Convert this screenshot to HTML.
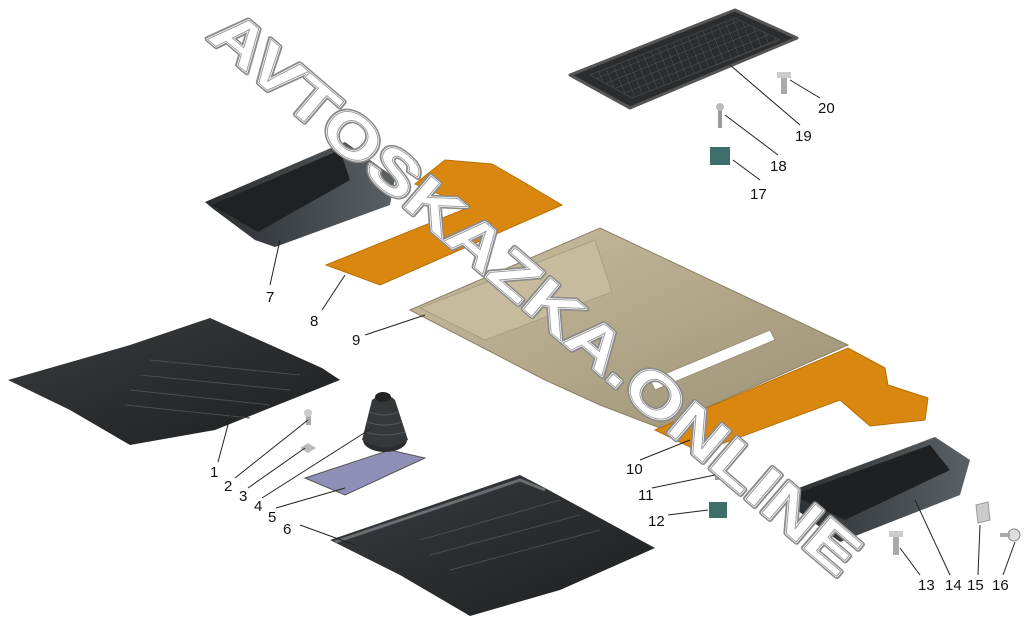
<!DOCTYPE html>
<html><head><meta charset="utf-8"><style>
html,body{margin:0;padding:0;background:#fff;width:1029px;height:625px;overflow:hidden}
svg{display:block}
text{font-family:"Liberation Sans",sans-serif}
.l{font-size:15px;fill:#111}
.ln{stroke:#222;stroke-width:1;fill:none}
</style></head><body>
<svg width="1029" height="625" viewBox="0 0 1029 625">
<defs>
<linearGradient id="dk" x1="0" y1="0" x2="1" y2="1"><stop offset="0" stop-color="#3a3d40"/><stop offset="0.5" stop-color="#2a2c2e"/><stop offset="1" stop-color="#1e2022"/></linearGradient>
<linearGradient id="bg9" x1="0" y1="0" x2="1" y2="1"><stop offset="0" stop-color="#c9bea0"/><stop offset="1" stop-color="#9c9174"/></linearGradient>
<linearGradient id="tr" x1="0" y1="0" x2="1" y2="0"><stop offset="0" stop-color="#2a2d30"/><stop offset="1" stop-color="#5a6064"/></linearGradient>
<pattern id="grid" width="8" height="8" patternUnits="userSpaceOnUse" patternTransform="rotate(-22)"><rect width="8" height="8" fill="#2a2c2e"/><path d="M0,0H8M0,0V8" stroke="#555" stroke-width="1"/></pattern>
</defs>
<polygon points="570,75 735,10 797,38 630,108" fill="#2a2c2e" stroke="#555" stroke-width="3" stroke-linejoin="round"/>
<polygon points="590,75 735,18 780,40 632,98" fill="url(#grid)" stroke="#444" stroke-width="1"/>
<polygon points="205,202 345,142 395,178 390,205 275,247 255,240 212,208" fill="url(#tr)"/>
<polygon points="212,205 340,150 350,180 258,232" fill="#1f2123"/>
<polygon points="326,265 470,207 415,184 445,160 492,164 520,180 562,205 380,285" fill="#d9870f" stroke="#b86f05" stroke-width="1"/>
<polygon points="410,310 600,228 848,345 660,428 600,405 545,380" fill="url(#bg9)" stroke="#8a8064" stroke-width="1"/>
<polygon points="420,308 595,240 612,292 485,340" fill="#c6bb9d" stroke="#a89e82"/>
<path d="M650,380 L770,330 L775,340 L655,390 Z" fill="#fff" stroke="#9a9074"/>
<polygon points="655,430 848,348 885,368 888,385 928,398 925,420 870,426 840,400 700,452" fill="#d9870f" stroke="#b86f05" stroke-width="1"/>
<polygon points="8,380 130,345 210,318 322,368 340,380 215,430 130,445 70,410" fill="url(#dk)"/>
<g stroke="#4a4d50" stroke-width="1"><line x1="150" y1="360" x2="300" y2="375"/><line x1="140" y1="375" x2="290" y2="390"/><line x1="130" y1="390" x2="270" y2="405"/><line x1="125" y1="405" x2="250" y2="418"/></g>
<polygon points="330,540 520,475 545,488 655,548 560,590 470,616 400,575" fill="url(#dk)"/>
<path d="M335,542 L520,480 L545,490" stroke="#6a6e72" stroke-width="3" fill="none"/>
<g stroke="#4a4d50" stroke-width="1"><line x1="420" y1="540" x2="560" y2="500"/><line x1="430" y1="555" x2="580" y2="515"/><line x1="450" y1="570" x2="600" y2="530"/></g>
<polygon points="305,478 390,450 425,458 345,495" fill="#8f8fb8" stroke="#555" stroke-width="1"/>
<ellipse cx="385" cy="440" rx="22" ry="12" fill="#2a2c2e"/>
<path d="M372,400 Q385,390 395,400 L408,440 Q385,455 362,440 Z" fill="#35383b"/>
<g stroke="#555" fill="none"><path d="M370,412 Q385,418 398,412"/><path d="M367,422 Q385,428 402,422"/><path d="M365,432 Q385,438 405,432"/></g>
<ellipse cx="383" cy="397" rx="8" ry="5" fill="#222"/>
<rect x="306" y="413" width="5" height="12" fill="#aaa"/><circle cx="308" cy="413" r="4" fill="#ccc"/>
<polygon points="300,448 308,443 316,448 308,453" fill="#bbb"/>
<rect x="715" y="462" width="4" height="18" fill="#999"/><circle cx="717" cy="462" r="4" fill="#bbb"/>
<rect x="709" y="502" width="18" height="16" fill="#3d6e6a"/>
<rect x="710" y="147" width="20" height="18" fill="#3d6e6a"/>
<rect x="718" y="108" width="4" height="20" fill="#999"/><circle cx="720" cy="107" r="4" fill="#bbb"/>
<rect x="781" y="76" width="6" height="18" fill="#aaa"/><rect x="777" y="72" width="14" height="6" fill="#ccc"/>
<rect x="893" y="535" width="6" height="20" fill="#aaa"/><rect x="889" y="531" width="14" height="6" fill="#ccc"/>
<polygon points="976,505 988,502 990,520 978,523" fill="#ccc" stroke="#999"/>
<circle cx="1014" cy="535" r="6" fill="#ddd" stroke="#888"/><rect x="1000" y="533" width="10" height="4" fill="#aaa"/>
<polygon points="780,495 935,437 970,460 960,495 840,542 786,502" fill="url(#tr)"/>
<polygon points="792,495 930,445 950,470 845,520" fill="#1e2022"/>
<g transform="translate(206,38) rotate(40.5)">
<text x="0" y="0" font-size="60" font-weight="bold" fill="#fff" stroke="#8a8a8a" stroke-width="5" stroke-linejoin="round" textLength="832" lengthAdjust="spacingAndGlyphs">AVTOSKAZKA.ONLINE</text>
<text x="0" y="0" font-size="60" font-weight="bold" fill="#fff" stroke="#fff" stroke-width="2" stroke-linejoin="round" textLength="832" lengthAdjust="spacingAndGlyphs">AVTOSKAZKA.ONLINE</text>
<text x="0" y="0" font-size="60" font-weight="bold" fill="#fff" stroke="#9a9a9a" stroke-width="0.8" textLength="832" lengthAdjust="spacingAndGlyphs">AVTOSKAZKA.ONLINE</text>
</g>
<g class="ln">
<line x1="218" y1="462" x2="232" y2="410"/><line x1="235" y1="478" x2="308" y2="420"/>
<line x1="248" y1="488" x2="305" y2="448"/><line x1="262" y1="498" x2="372" y2="428"/>
<line x1="276" y1="508" x2="345" y2="488"/><line x1="300" y1="525" x2="355" y2="545"/>
<line x1="270" y1="285" x2="280" y2="240"/><line x1="322" y1="310" x2="345" y2="275"/>
<line x1="365" y1="335" x2="425" y2="315"/><line x1="640" y1="460" x2="690" y2="440"/>
<line x1="652" y1="488" x2="715" y2="475"/><line x1="668" y1="515" x2="708" y2="510"/>
<line x1="920" y1="575" x2="900" y2="548"/><line x1="950" y1="575" x2="915" y2="500"/>
<line x1="978" y1="575" x2="980" y2="525"/><line x1="1003" y1="575" x2="1015" y2="542"/>
<line x1="760" y1="180" x2="733" y2="160"/><line x1="778" y1="155" x2="725" y2="115"/>
<line x1="800" y1="125" x2="730" y2="65"/><line x1="820" y1="98" x2="790" y2="80"/>
</g>
<g class="l">
<text x="210" y="477">1</text><text x="224" y="491">2</text><text x="239" y="501">3</text>
<text x="254" y="511">4</text><text x="268" y="522">5</text><text x="283" y="534">6</text>
<text x="266" y="302">7</text><text x="310" y="326">8</text><text x="352" y="345">9</text>
<text x="626" y="474">10</text><text x="638" y="500">11</text><text x="648" y="526">12</text>
<text x="918" y="590">13</text><text x="945" y="590">14</text><text x="967" y="590">15</text>
<text x="992" y="590">16</text><text x="750" y="199">17</text><text x="770" y="171">18</text>
<text x="795" y="141">19</text><text x="818" y="113">20</text>
</g>
</svg>
</body></html>
